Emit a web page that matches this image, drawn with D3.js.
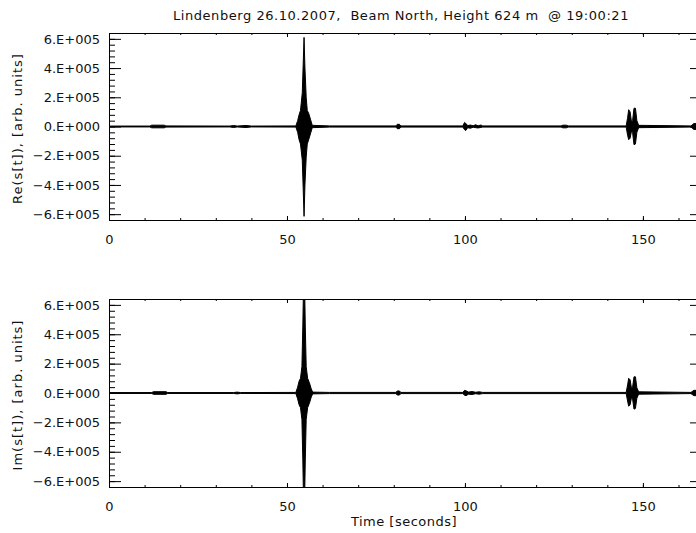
<!DOCTYPE html>
<html>
<head>
<meta charset="utf-8">
<script src="https://cdn.jsdelivr.net/npm/d3@7"></script>
<style>
  body { margin: 0; background: #fff; }
  text { font-family: "DejaVu Sans", sans-serif; font-size: 13px; fill: #111; }
</style>
</head>
<body>
<svg id="chart"></svg>
<script>
const reTime = [0, 11.5, 12, 15.5, 16, 34, 35, 36, 38.5, 40, 52.5, 53, 53.4, 53.8, 54.3, 54.55, 54.8, 55.05, 55.4, 55.7, 56.1, 56.6, 57.1, 62, 80.6, 81.0, 81.6, 82, 99.4, 99.9, 100.2, 100.8, 101.5, 102.3, 103, 103.7, 104.5, 105, 127, 127.5, 128.5, 129, 145.3, 145.7, 146.0, 146.4, 146.8, 147.1, 147.5, 147.9, 148.3, 148.8, 163.5, 164.3, 165, 166.6];
const reHigh = [3e3, 3e3, 9e3, 9e3, 4e3, 3e3, 7e3, 3e3, 7e3, 3e3, 4e3, 40e3, 80e3, 110e3, 230e3, 420e3, 610e3, 400e3, 200e3, 110e3, 90e3, 50e3, 8e3, 4e3, 4e3, 15e3, 15e3, 4e3, 4e3, 28e3, 22e3, 6e3, 10e3, 5e3, 12e3, 5e3, 10e3, 4e3, 4e3, 9e3, 9e3, 4e3, 4e3, 60e3, 115e3, 100e3, 30e3, 40e3, 125e3, 125e3, 40e3, 8e3, 4e3, 20e3, 20e3, 4e3];
const reLow = [-3e3, -3e3, -9e3, -9e3, -4e3, -3e3, -7e3, -3e3, -7e3, -3e3, -4e3, -40e3, -90e3, -120e3, -230e3, -420e3, -615e3, -400e3, -210e3, -120e3, -90e3, -50e3, -8e3, -4e3, -4e3, -15e3, -15e3, -4e3, -4e3, -22e3, -28e3, -8e3, -12e3, -5e3, -8e3, -10e3, -6e3, -4e3, -4e3, -9e3, -9e3, -4e3, -4e3, -60e3, -90e3, -80e3, -30e3, -40e3, -125e3, -120e3, -40e3, -8e3, -4e3, -20e3, -20e3, -4e3];

const imTime = [0, 12, 12.5, 16, 16.5, 35, 36, 37, 52.5, 53, 53.4, 53.8, 54.2, 54.45, 54.6, 55.0, 55.15, 55.4, 55.8, 56.3, 56.8, 57.2, 62, 80.6, 81.0, 81.6, 82, 99.4, 99.9, 100.3, 101, 102, 103, 104, 105, 145.3, 145.7, 146.0, 146.4, 146.8, 147.1, 147.5, 147.9, 148.3, 148.8, 163.5, 164.3, 165, 166.6];
const imHigh = [3e3, 3e3, 9e3, 9e3, 3e3, 3e3, 6e3, 3e3, 4e3, 40e3, 80e3, 100e3, 180e3, 450e3, 660e3, 660e3, 450e3, 180e3, 100e3, 70e3, 30e3, 6e3, 4e3, 4e3, 14e3, 14e3, 4e3, 4e3, 18e3, 15e3, 6e3, 10e3, 5e3, 8e3, 4e3, 4e3, 55e3, 100e3, 90e3, 30e3, 40e3, 110e3, 110e3, 35e3, 8e3, 4e3, 18e3, 18e3, 4e3];
const imLow = [-3e3, -3e3, -9e3, -9e3, -3e3, -3e3, -6e3, -3e3, -4e3, -40e3, -80e3, -100e3, -180e3, -450e3, -660e3, -660e3, -450e3, -180e3, -100e3, -70e3, -30e3, -6e3, -4e3, -4e3, -14e3, -14e3, -4e3, -4e3, -15e3, -18e3, -8e3, -10e3, -5e3, -8e3, -4e3, -4e3, -55e3, -90e3, -80e3, -30e3, -40e3, -110e3, -105e3, -35e3, -8e3, -4e3, -18e3, -18e3, -4e3];

const yTicks = [-6e5, -4e5, -2e5, 0, 2e5, 4e5, 6e5];
const yTickLabels = ["\u22126.E+005", "\u22124.E+005", "\u22122.E+005", "0.E+000", "2.E+005", "4.E+005", "6.E+005"];
const xTicks = [0, 50, 100, 150];

const width = 696, height = 533;
const margin = { left: 109, right: 702 };
const xMax = 166.6, yMax = 6.4e5;

const svg = d3.select("#chart").attr("width", width).attr("height", height);

svg.append("text")
  .attr("x", 401).attr("y", 20)
  .attr("text-anchor", "middle")
  .style("white-space", "pre")
  .style("letter-spacing", "0.55px")
  .text("Lindenberg 26.10.2007,  Beam North, Height 624 m  @ 19:00:21");

const xScale = d3.scaleLinear().domain([0, xMax]).range([margin.left, margin.right]);

function drawPanel(top, bottom, times, hi, lo, label, id) {
  const yScale = d3.scaleLinear().domain([-yMax, yMax]).range([bottom, top]);
  const pts = times.map((t, i) => ({ t: t, hi: hi[i], lo: lo[i] }));

  svg.append("clipPath").attr("id", id)
    .append("rect")
    .attr("x", margin.left).attr("y", top)
    .attr("width", margin.right - margin.left).attr("height", bottom - top);

  const area = d3.area()
    .x(d => xScale(d.t))
    .y0(d => yScale(d.lo))
    .y1(d => yScale(d.hi));

  svg.append("path")
    .datum(pts)
    .attr("clip-path", `url(#${id})`)
    .attr("d", area)
    .attr("fill", "#000")
    .attr("stroke", "#000")
    .attr("stroke-width", 1);

  // minor ticks first, then major
  const yMinor = d3.range(-6e5, 6.01e5, 4e4);
  const xMinor = d3.range(0, 170, 10);

  svg.append("g").attr("transform", `translate(${margin.left},0)`)
    .call(d3.axisLeft(yScale).tickValues(yMinor).tickSize(-6).tickFormat("").tickSizeOuter(0));
  svg.append("g").attr("transform", `translate(${margin.right},0)`)
    .call(d3.axisRight(yScale).tickValues(yMinor).tickSize(-6).tickFormat("").tickSizeOuter(0));
  svg.append("g").attr("transform", `translate(0,${bottom})`)
    .call(d3.axisBottom(xScale).tickValues(xMinor).tickSize(-2).tickFormat("").tickSizeOuter(0));
  svg.append("g").attr("transform", `translate(0,${top})`)
    .call(d3.axisTop(xScale).tickValues(xMinor).tickSize(-2).tickFormat("").tickSizeOuter(0));

  svg.append("g").attr("class", "y-axis")
    .attr("transform", `translate(${margin.left},0)`)
    .call(d3.axisLeft(yScale).tickValues(yTicks)
      .tickFormat((d, i) => yTickLabels[i]).tickSize(-12).tickPadding(9).tickSizeOuter(0));
  svg.append("g").attr("transform", `translate(${margin.right},0)`)
    .call(d3.axisRight(yScale).tickValues(yTicks).tickFormat("").tickSize(-12).tickSizeOuter(0));
  svg.append("g").attr("class", "x-axis")
    .attr("transform", `translate(0,${bottom})`)
    .call(d3.axisBottom(xScale).tickValues(xTicks).tickFormat(d3.format("d"))
      .tickSize(-4).tickPadding(15).tickSizeOuter(0));
  svg.append("g").attr("transform", `translate(0,${top})`)
    .call(d3.axisTop(xScale).tickValues(xTicks).tickFormat("").tickSize(-4).tickSizeOuter(0));

  svg.selectAll(".domain").remove();
  svg.selectAll(".tick line").attr("stroke", "#000");
  svg.selectAll(".tick text").attr("font-family", null).attr("font-size", null).attr("fill", null);

  // box
  svg.append("rect")
    .attr("x", margin.left).attr("y", top)
    .attr("width", margin.right - margin.left).attr("height", bottom - top)
    .attr("fill", "none").attr("stroke", "#000").attr("stroke-width", 1)
    .attr("shape-rendering", "crispEdges");

  svg.append("text")
    .attr("transform", `translate(22,${(top + bottom) / 2 + 2}) rotate(-90)`)
    .attr("text-anchor", "middle")
    .style("letter-spacing", "1px")
    .text(label);
}

drawPanel(33, 220, reTime, reHigh, reLow, "Re(s[t]), [arb. units]", "clipRe");
drawPanel(299, 487, imTime, imHigh, imLow, "Im(s[t]), [arb. units]", "clipIm");

svg.append("text")
  .attr("x", 404).attr("y", 526)
  .attr("text-anchor", "middle")
  .style("letter-spacing", "0.5px")
  .text("Time [seconds]");
</script>
</body>
</html>
